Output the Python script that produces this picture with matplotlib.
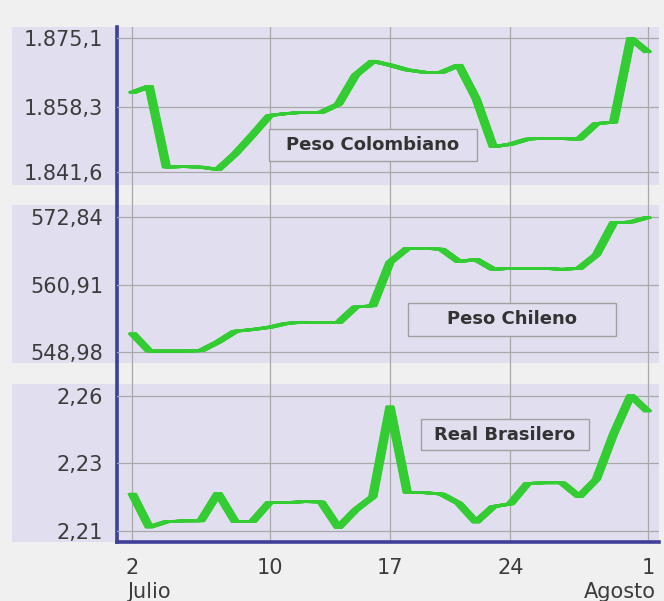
import numpy as np
import matplotlib
matplotlib.use("Agg")
import matplotlib.pyplot as plt
import matplotlib.transforms as mtransforms
from matplotlib.patches import Rectangle

# ---------------- data ----------------
days = list(range(2, 33))          # 2 Julio ... 32 == 1 Agosto
x_tick_days = [2, 10, 17, 24, 32]
x_tick_labels = ["2", "10", "17", "24", "1"]
month_labels = ["Julio", "Agosto"]

colombia = [1861.5, 1863.1, 1842.9, 1843.0, 1842.9, 1842.3, 1846.2, 1850.9, 1855.8, 1856.3,
            1856.6, 1856.6, 1858.6, 1865.9, 1869.4, 1868.4, 1867.2, 1866.6, 1866.6, 1868.4,
            1860.1, 1848.0, 1848.6, 1849.9, 1850.1, 1850.0, 1849.9, 1853.8, 1854.1, 1875.1,
            1871.6]
chile = [552.4, 549.2, 549.2, 549.2, 549.25, 550.8, 552.7, 553.0, 553.4, 554.1,
         554.3, 554.25, 554.2, 557.0, 557.2, 564.9, 567.35, 567.35, 567.2, 565.0,
         565.4, 563.65, 563.8, 563.8, 563.8, 563.65, 563.8, 566.2, 571.9, 572.0,
         572.84]
brasil = [2.2238, 2.2114, 2.2134, 2.2137, 2.2137, 2.2238, 2.2134, 2.2134, 2.2205, 2.2204,
          2.2207, 2.2206, 2.2112, 2.2177, 2.2225, 2.2554, 2.2241, 2.2240, 2.2235, 2.2201,
          2.2132, 2.2189, 2.2199, 2.2274, 2.2276, 2.2276, 2.2225, 2.2289, 2.2455, 2.2595,
          2.2536]

names = ["Peso Colombiano", "Peso Chileno", "Real Brasilero"]
ytick_pos = [[1841.6, 1857.85, 1875.1], [548.98, 560.91, 572.84], [2.2100, 2.23475, 2.2595]]
ytick_labels = [["1.841,6", "1.858,3", "1.875,1"], ["548,98", "560,91", "572,84"], ["2,21", "2,23", "2,26"]]

# ---------------- style / layout ----------------
W, H = 664, 601
BG = "#f0f0f0"
LAV = "#e1dfef"
BLUE = "#3d3f98"
GRID = "#a8a8a8"
GREEN = "#33cc33"
TXT = "#3c3c3c"

fig = plt.figure(figsize=(W / 100, H / 100), dpi=100, facecolor=BG)

def frect(x0, y0, x1, y1):
    return [x0 / W, 1 - y1 / H, (x1 - x0) / W, (y1 - y0) / H]

AX_L, AX_R = 117, 658.6
PX_PER_DAY = 17.2
X_DAY2 = 132
xlim = (2 + (AX_L - X_DAY2) / PX_PER_DAY, 2 + (AX_R - X_DAY2) / PX_PER_DAY)

# panel bands (pixels) and pixel rows of low/high ticks
bands = [(27, 185), (205, 363), (384, 542.3)]
tick_px = [(172.3, 38.3), (352.3, 217.3), (531.0, 395.5)]
series = [colombia, chile, brasil]

# lavender bands behind everything
for (t, b) in bands:
    fig.add_artist(Rectangle((11.7 / W, 1 - b / H), (AX_R - 11.7) / W, (b - t) / H,
                             transform=fig.transFigure, facecolor=LAV, edgecolor="none", zorder=-1))

# base axes: vertical grid + blue axis lines + x tick labels
ax0 = fig.add_axes(frect(AX_L, 27, AX_R, 542.3))
ax0.set_facecolor("none")
ax0.set_xlim(*xlim)
ax0.set_ylim(0, 1)
ax0.set_yticks([])
ax0.set_xticks(x_tick_days, x_tick_labels)
ax0.tick_params(axis="x", length=0, pad=11, labelsize=15, labelcolor=TXT)
ax0.grid(axis="x", color=GRID, lw=0.9)
for s in ["top", "right"]:
    ax0.spines[s].set_visible(False)
for s in ["left", "bottom"]:
    ax0.spines[s].set_color(BLUE)
    ax0.spines[s].set_linewidth(2.6)
    ax0.spines[s].set_zorder(5)

fig.text(127 / W, 1 - 598 / H, month_labels[0], ha="left", va="baseline", fontsize=15, color=TXT)
fig.text(656 / W, 1 - 598 / H, month_labels[1], ha="right", va="baseline", fontsize=15, color=TXT)

label_boxes = [(269, 129, 477, 161), (407.5, 303, 616, 336), (420.6, 419, 589, 450)]

for i in range(3):
    t, b = bands[i]
    plo, phi = tick_px[i]
    vlo, vhi = ytick_pos[i][0], ytick_pos[i][2]
    per_px = (vhi - vlo) / (plo - phi)
    ylim = (vlo - (b - plo) * per_px, vlo + (plo - t) * per_px)
    ax = fig.add_axes(frect(AX_L, t, AX_R, b))
    ax.set_facecolor("none")
    ax.set_xlim(*xlim)
    ax.set_ylim(*ylim)
    ax.set_xticks([])
    ax.set_yticks(ytick_pos[i], ytick_labels[i])
    ax.tick_params(axis="y", length=0, pad=10, labelsize=15, labelcolor=TXT)
    ax.grid(axis="y", color=GRID, lw=0.9)
    ax.set_axisbelow(True)
    for s in ax.spines.values():
        s.set_visible(False)
    # calligraphic ribbon: a thin line swept horizontally
    for dx in np.arange(-3.5, 3.51, 0.5):
        tr = mtransforms.offset_copy(ax.transData, fig=fig, x=dx, y=0, units="dots")
        ax.plot(days, series[i], color=GREEN, lw=1.75, transform=tr,
                solid_joinstyle="round", solid_capstyle="butt", zorder=3)
    x0, y0, x1, y1 = label_boxes[i]
    fig.add_artist(Rectangle((x0 / W, 1 - y1 / H), (x1 - x0) / W, (y1 - y0) / H,
                             transform=fig.transFigure, facecolor=LAV, edgecolor="#a0a0a0",
                             lw=1.0, zorder=4))
    fig.text((x0 + x1) / 2 / W, 1 - (y0 + y1) / 2 / H, names[i], ha="center", va="center",
             fontsize=13, fontweight="bold", color="#333333", zorder=5)

fig.savefig("out.png", dpi=100, facecolor=BG)
